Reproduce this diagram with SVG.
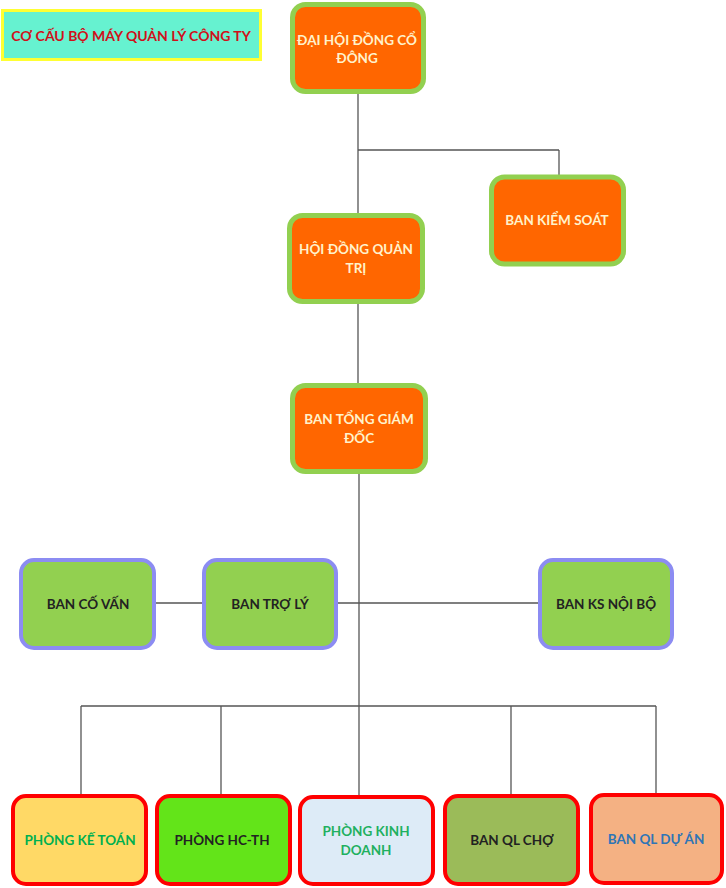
<svg xmlns="http://www.w3.org/2000/svg" width="726" height="888" viewBox="0 0 726 888">
<style>
text{font-family:Lato,"Open Sans","Liberation Sans",sans-serif;font-weight:bold;font-size:13.5px;text-anchor:middle;dominant-baseline:central}
.top rect{fill:#FF6600;stroke:#92D050;stroke-width:5}
.top text{fill:#FFF2CC}
.mid rect{fill:#92D050;stroke:#8C8CF2;stroke-width:4}
.mid text{fill:#222}
.bot rect{stroke:#FF0000;stroke-width:4}
.c line{stroke:#555;stroke-width:1.3}
</style>
<rect width="726" height="888" fill="#fff"/>
<g id="title">
<rect x="2.5" y="10.5" width="258" height="49" fill="#66F2D0" stroke="#FFFF33" stroke-width="3"/>
<text x="131" y="35" fill="#D0101A" style="font-size:14px">CƠ CẤU BỘ MÁY QUẢN LÝ CÔNG TY</text>
</g>
<g class="c" id="connectors">
<line x1="358" y1="93" x2="358" y2="215"/>
<line x1="358" y1="150" x2="559" y2="150"/>
<line x1="559" y1="150" x2="559" y2="176"/>
<line x1="358" y1="303" x2="358" y2="385"/>
<line x1="359" y1="473" x2="359" y2="795"/>
<line x1="155" y1="603" x2="204" y2="603"/>
<line x1="337" y1="603" x2="540" y2="603"/>
<line x1="81" y1="706" x2="656" y2="706"/>
<line x1="81" y1="706" x2="81" y2="795"/>
<line x1="221" y1="706" x2="221" y2="795"/>
<line x1="511" y1="706" x2="511" y2="795"/>
<line x1="656" y1="706" x2="656" y2="795"/>
</g>
<g class="top" id="dhdcd">
<rect x="292.5" y="4.5" width="131" height="87" rx="13"/>
<text x="357" y="40">ĐẠI HỘI ĐỒNG CỔ</text>
<text x="357" y="58">ĐÔNG</text>
</g>
<g class="top" id="bks">
<rect x="491.5" y="177" width="132" height="87" rx="13"/>
<text x="557" y="220">BAN KIỂM SOÁT</text>
</g>
<g class="top" id="hdqt">
<rect x="289.5" y="215.5" width="133" height="86" rx="13"/>
<text x="356" y="249">HỘI ĐỒNG QUẢN</text>
<text x="356" y="268">TRỊ</text>
</g>
<g class="top" id="btgd">
<rect x="292.5" y="385.5" width="133" height="86" rx="13"/>
<text x="359" y="419">BAN TỔNG GIÁM</text>
<text x="359" y="438">ĐỐC</text>
</g>
<g class="mid" id="bcv">
<rect x="21" y="560" width="133" height="88" rx="13"/>
<text x="88" y="604">BAN CỐ VẤN</text>
</g>
<g class="mid" id="btl">
<rect x="204" y="560" width="132" height="88" rx="13"/>
<text x="270" y="604">BAN TRỢ LÝ</text>
</g>
<g class="mid" id="bksnb">
<rect x="540" y="560" width="132" height="88" rx="13"/>
<text x="606" y="604">BAN KS NỘI BỘ</text>
</g>
<g class="bot" id="pkt">
<rect x="13" y="796" width="133" height="88" rx="13" fill="#FFD966"/>
<text x="80" y="840" fill="#00B050">PHÒNG KẾ TOÁN</text>
</g>
<g class="bot" id="phcth">
<rect x="157" y="796" width="133" height="88" rx="13" fill="#63E419"/>
<text x="222" y="840" fill="#222">PHÒNG HC-TH</text>
</g>
<g class="bot" id="pkd">
<rect x="300" y="797" width="133" height="87" rx="13" fill="#DDEBF7"/>
<text x="366" y="831" fill="#1FB060">PHÒNG KINH</text>
<text x="366" y="850" fill="#1FB060">DOANH</text>
</g>
<g class="bot" id="bqlc">
<rect x="445" y="796" width="133" height="88" rx="13" fill="#9BBB59"/>
<text x="512" y="840" fill="#222">BAN QL CHỢ</text>
</g>
<g class="bot" id="bqlda">
<rect x="591" y="795" width="131" height="88" rx="13" fill="#F4B183"/>
<text x="656" y="839" fill="#2E75B6">BAN QL DỰ ÁN</text>
</g>
</svg>
